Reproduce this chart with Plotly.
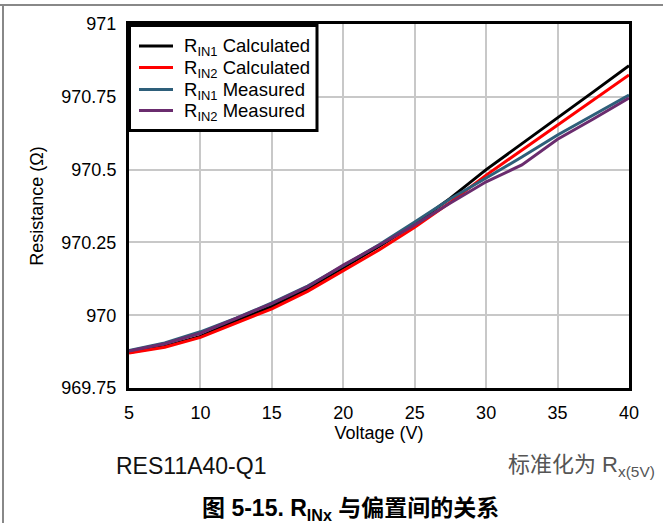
import plotly.graph_objects as go

# Bias voltage sweep (V)
voltage = [5, 7.5, 10, 12.5, 15, 17.5, 20, 22.5, 25, 27.5, 30, 32.5, 35, 37.5, 40]

# Input resistance (ohm) versus bias voltage
rin1_calc = [969.872, 969.893, 969.927, 969.981, 970.030, 970.090, 970.163, 970.236, 970.313, 970.402, 970.500, 970.588, 970.678, 970.767, 970.857]
rin2_calc = [969.870, 969.890, 969.924, 969.972, 970.022, 970.082, 970.152, 970.224, 970.302, 970.388, 970.481, 970.567, 970.653, 970.739, 970.825]
rin1_meas = [969.879, 969.905, 969.943, 969.990, 970.042, 970.100, 970.170, 970.242, 970.320, 970.400, 970.471, 970.543, 970.619, 970.687, 970.756]
rin2_meas = [969.877, 969.902, 969.938, 969.988, 970.040, 970.098, 970.172, 970.240, 970.310, 970.385, 970.458, 970.516, 970.604, 970.674, 970.746]

x_ticks = [5, 10, 15, 20, 25, 30, 35, 40]
y_ticks = [969.75, 970, 970.25, 970.5, 970.75, 971]
y_tick_text = ["969.75", "970", "970.25", "970.5", "970.75", "971"]

series_names = ["R<sub>IN1</sub> Calculated", "R<sub>IN2</sub> Calculated",
                "R<sub>IN1</sub> Measured", "R<sub>IN2</sub> Measured"]
series_values = [rin1_calc, rin2_calc, rin1_meas, rin2_meas]
series_colors = ["#000000", "#ff0000", "#2e5f7a", "#6a2c6e"]

FONT = "Liberation Sans"
MIXED = "Liberation Sans, Noto Sans CJK SC"

# Plot-area geometry in pixels (used to place paper-referenced decorations)
W, H = 663, 523
L, R, T, B = 129, 34, 24, 135
PW, PH = W - L - R, H - T - B


def px(x):
    return (x - L) / PW


def py(y):
    return (H - B - y) / PH


fig = go.Figure()
for name, vals, color in zip(series_names, series_values, series_colors):
    fig.add_trace(go.Scatter(x=voltage, y=vals, mode="lines", name=name,
                             line=dict(color=color, width=3)))

fig.update_layout(
    width=W, height=H,
    margin=dict(l=L, r=R, t=T, b=B),
    paper_bgcolor="white", plot_bgcolor="white",
    font=dict(family=FONT, size=18, color="#000"),
    showlegend=False,
)
fig.update_xaxes(range=[5, 40], tickvals=x_ticks, showgrid=True,
                 gridcolor="#c8c8c8", gridwidth=2, showline=True,
                 linecolor="black", linewidth=3, mirror=True, ticks="",
                 ticklabelstandoff=6,
                 title=dict(text="Voltage (V)", standoff=0,
                            font=dict(family=FONT, size=18)),
                 tickfont=dict(family=FONT, size=18), zeroline=False)
fig.update_yaxes(range=[969.75, 971], tickvals=y_ticks, ticktext=y_tick_text,
                 showgrid=True, gridcolor="#c8c8c8", gridwidth=2, showline=True,
                 linecolor="black", linewidth=3, mirror=True, ticks="",
                 ticklabelstandoff=6,
                 title=dict(text="Resistance (Ω)", standoff=14,
                            font=dict(family=FONT, size=18)),
                 tickfont=dict(family=FONT, size=18), zeroline=False)

# Legend box with line samples and labels
fig.add_shape(type="rect", xref="paper", yref="paper",
              x0=px(129.5), x1=px(317), y0=py(25.5), y1=py(130.5),
              line=dict(color="black", width=3), fillcolor="white", layer="above")
row_y = [46, 67.5, 89.5, 110.5]
for name, color, yy in zip(series_names, series_colors, row_y):
    fig.add_shape(type="line", xref="paper", yref="paper",
                  x0=px(139), x1=px(173), y0=py(yy), y1=py(yy),
                  line=dict(color=color, width=3), layer="above")
    fig.add_annotation(text=name, xref="paper", yref="paper",
                       x=px(182), y=py(yy + 1), xanchor="left", yanchor="middle",
                       showarrow=False, font=dict(family=FONT, size=18.5, color="#000"))

# Page frame lines
fig.add_shape(type="line", xref="paper", yref="paper",
              x0=px(0), x1=px(W), y0=py(5), y1=py(5),
              line=dict(color="#888888", width=2))
fig.add_shape(type="line", xref="paper", yref="paper",
              x0=px(3), x1=px(3), y0=py(H), y1=py(5),
              line=dict(color="#888888", width=2))

fig.add_annotation(text="RES11A40-Q1", xref="paper", yref="paper",
                   x=px(114), y=py(466), xanchor="left", yanchor="middle",
                   showarrow=False, font=dict(family=FONT, size=23, color="#111"))
fig.add_annotation(text="标准化为 R<sub>x(5V)</sub>", xref="paper", yref="paper",
                   x=px(657), y=py(466), xanchor="right", yanchor="middle",
                   showarrow=False, font=dict(family=MIXED, size=22, color="#555"))
fig.add_annotation(text="<b>图 5-15. R<sub>INx</sub> 与偏置间的关系</b>", xref="paper", yref="paper",
                   x=px(350), y=py(509.5), xanchor="center", yanchor="middle",
                   showarrow=False, font=dict(family=MIXED, size=23, color="#000"))

fig.write_html("out.html")
